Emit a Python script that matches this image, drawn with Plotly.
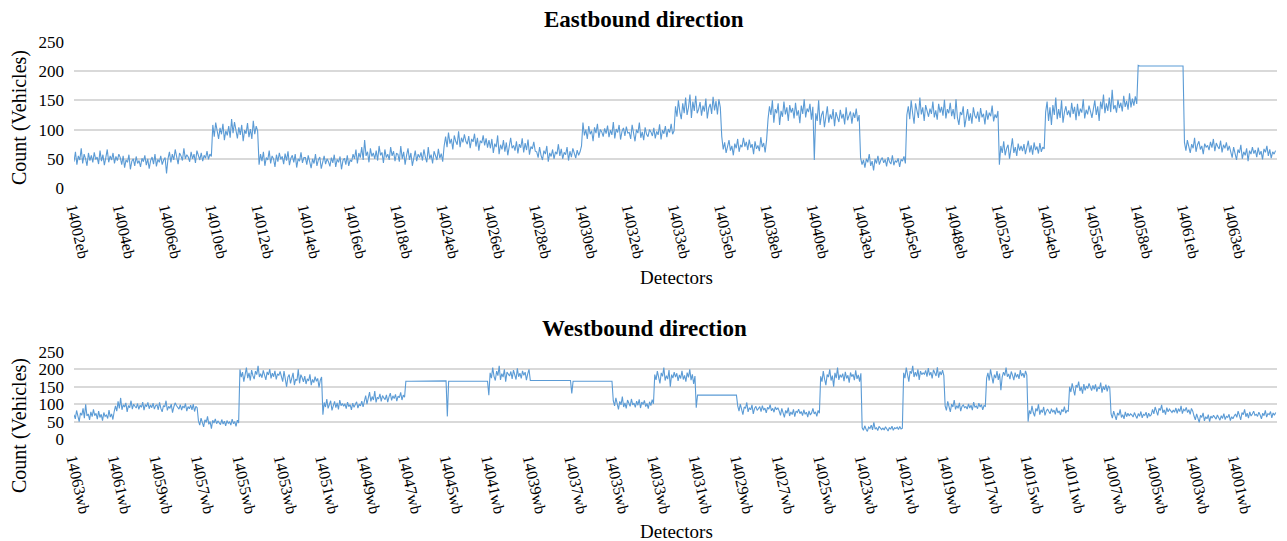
import plotly.graph_objects as go

N = 32  # points per labelled interval

eb_labels = ["14002eb", "14004eb", "14006eb", "14010eb", "14012eb", "14014eb", "14016eb",
             "14018eb", "14024eb", "14026eb", "14028eb", "14030eb", "14032eb", "14033eb",
             "14035eb", "14038eb", "14040eb", "14043eb", "14045eb", "14048eb", "14052eb",
             "14054eb", "14055eb", "14058eb", "14061eb", "14063eb"]

eb_counts = [
    45, 62, 40, 55, 48, 68, 42, 58, 50, 38, 60, 47, 56, 44, 61, 49, 53, 41, 64, 46, 57, 39, 52, 66, 44, 55, 48, 60, 42, 54, 47, 58,
    52, 40, 55, 35, 48, 44, 57, 32, 46, 50, 38, 54, 42, 47, 36, 51, 45, 56, 39, 50, 33, 47, 53, 41, 58, 37, 49, 44, 55, 40, 48, 52,
    25, 50, 62, 44, 58, 48, 66, 52, 41, 60, 55, 47, 68, 50, 57, 53, 45, 62, 50, 58, 43, 64, 54, 48, 60, 46, 56, 51, 63, 49, 58, 54,
    108, 88, 112, 95, 84, 103, 92, 110, 82, 98, 90, 106, 86, 118, 94, 113, 96, 85, 104, 91, 108, 80, 99, 93, 111, 87, 101, 84, 115, 92, 106, 98,
    40, 58, 46, 62, 38, 52, 48, 64, 42, 55, 50, 36, 57, 45, 60, 49, 54, 41, 59, 47, 63, 39, 51, 56, 44, 58, 35, 50, 46, 61, 43, 52,
    52, 40, 56, 44, 34, 50, 42, 58, 38, 48, 53, 33, 46, 55, 41, 50, 45, 37, 52, 43, 57, 36, 49, 44, 54, 32, 47, 51, 40, 56, 38, 48,
    45, 58, 50, 66, 42, 60, 52, 70, 48, 82, 55, 62, 44, 68, 54, 60, 50, 64, 47, 72, 56, 61, 43, 66, 52, 58, 48, 70, 55, 63, 46, 59,
    58, 45, 72, 50, 62, 40, 56, 68, 48, 60, 38, 55, 64, 46, 58, 52, 61, 47, 66, 53, 44, 70, 50, 57, 42, 63, 55, 48, 67, 51, 59, 45,
    72, 88, 70, 95, 76, 84, 66, 90, 80, 74, 97, 70, 86, 78, 92, 80, 75, 89, 68, 84, 79, 93, 71, 86, 64, 81, 77, 90, 73, 85, 69, 82,
    68, 84, 60, 76, 70, 90, 58, 74, 66, 82, 62, 78, 56, 72, 86, 68, 73, 64, 80, 59, 75, 69, 85, 61, 77, 65, 83, 57, 71, 67, 79, 63,
    62, 52, 70, 56, 48, 64, 58, 72, 45, 60, 54, 66, 50, 62, 58, 75, 55, 67, 50, 61, 57, 70, 47, 63, 53, 68, 59, 51, 65, 56, 62, 72,
    112, 90, 100, 84, 106, 92, 98, 80, 104, 94, 110, 86, 100, 96, 88, 102, 93, 107, 87, 99, 91, 113, 85, 101, 95, 108, 83, 97, 103, 89, 105, 94,
    95, 84, 108, 90, 80, 100, 94, 112, 86, 96, 82, 104, 92, 88, 100, 96, 89, 103, 85, 97, 91, 109, 83, 99, 93, 106, 87, 101, 95, 110, 92, 98,
    140, 122, 150, 130, 118, 145, 128, 155, 125, 138, 160, 120, 148, 132, 158, 128, 135, 147, 124, 141, 131, 153, 119, 137, 144, 127, 156, 133, 149, 126, 152, 138,
    88, 66, 78, 60, 74, 82, 64, 72, 56, 76, 68, 84, 62, 74, 70, 86, 71, 79, 65, 83, 69, 75, 58, 80, 67, 73, 63, 87, 70, 77, 61, 82,
    118, 140, 125, 150, 112, 135, 128, 145, 108, 132, 122, 148, 126, 138, 115, 142, 129, 137, 119, 146, 124, 133, 111, 141, 127, 152, 121, 136, 130, 144, 117, 139,
    48, 128, 115, 150, 108, 125, 132, 104, 122, 140, 112, 126, 118, 135, 106, 130, 121, 113, 134, 119, 127, 109, 138, 116, 124, 131, 110, 129, 120, 136, 114, 125,
    52, 40, 48, 35, 50, 44, 58, 38, 46, 30, 50, 42, 55, 40, 48, 52, 43, 49, 37, 53, 45, 41, 56, 39, 47, 44, 51, 36, 49, 46, 54, 42,
    125, 140, 118, 150, 128, 110, 145, 132, 120, 155, 126, 138, 115, 142, 130, 122, 136, 127, 148, 121, 133, 117, 144, 129, 139, 124, 151, 119, 135, 128, 146, 123,
    135, 118, 152, 120, 108, 130, 125, 140, 104, 122, 135, 115, 128, 110, 138, 124, 119, 131, 113, 137, 121, 127, 109, 133, 117, 129, 123, 141, 114, 126, 120, 132,
    40, 72, 60, 80, 56, 68, 74, 50, 66, 85, 60, 70, 55, 76, 64, 72, 63, 75, 58, 69, 81, 61, 73, 57, 78, 65, 71, 59, 77, 62, 70, 67,
    130, 148, 115, 138, 108, 142, 125, 155, 118, 135, 120, 150, 112, 130, 140, 125, 133, 121, 146, 127, 139, 116, 144, 123, 136, 129, 152, 119, 134, 126, 141, 131,
    120, 135, 150, 125, 140, 115, 148, 135, 160, 128, 145, 132, 155, 130, 168, 135, 142, 129, 151, 137, 146, 131, 158, 139, 149, 134, 162, 138, 153, 141, 157, 144,
    210, 209, 209, 210, 209, 209, 210, 209, 209, 209, 210, 209, 209, 210, 209, 209, 209, 210, 209, 209, 209, 210, 209, 209, 210, 209, 209, 209, 210, 209, 209, 209,
    78, 64, 82, 70, 60, 75, 68, 86, 62, 74, 80, 66, 72, 58, 76, 70, 73, 65, 79, 69, 84, 63, 77, 71, 67, 81, 61, 74, 68, 78, 64, 72,
    64, 52, 70, 58, 48, 66, 60, 74, 50, 62, 56, 68, 46, 64, 58, 70, 59, 65, 53, 69, 57, 63, 49, 67, 61, 72, 55, 66, 51, 62, 58, 64,
]

wb_labels = ["14063wb", "14061wb", "14059wb", "14057wb", "14055wb", "14053wb", "14051wb",
             "14049wb", "14047wb", "14045wb", "14041wb", "14039wb", "14037wb", "14035wb",
             "14033wb", "14031wb", "14029wb", "14027wb", "14025wb", "14023wb", "14021wb",
             "14019wb", "14017wb", "14015wb", "14011wb", "14007wb", "14005wb", "14003wb",
             "14001wb"]

wb_counts = [
    70, 58, 82, 65, 50, 75, 68, 88, 60, 100, 66, 72, 55, 78, 64, 85, 67, 74, 57, 80, 62, 71, 53, 76, 65, 69, 59, 83, 63, 72, 56, 79,
    95, 80, 108, 88, 118, 84, 98, 92, 104, 78, 96, 90, 110, 86, 100, 94, 89, 102, 85, 97, 91, 106, 83, 99, 93, 105, 87, 98, 90, 103, 86, 96,
    98, 84, 105, 88, 78, 96, 92, 110, 82, 94, 88, 100, 76, 92, 104, 96, 91, 86, 99, 83, 95, 89, 102, 80, 93, 87, 97, 84, 100, 79, 94, 90,
    52, 40, 60, 45, 35, 55, 48, 65, 42, 50, 30, 54, 46, 58, 44, 52, 47, 41, 56, 43, 51, 38, 53, 45, 49, 40, 57, 44, 50, 36, 54, 46,
    200, 178, 192, 165, 185, 205, 175, 190, 168, 198, 182, 172, 195, 185, 210, 178, 188, 176, 197, 181, 170, 193, 184, 201, 174, 189, 179, 196, 171, 187, 183, 194,
    182, 165, 195, 170, 150, 178, 185, 160, 175, 190, 155, 172, 168, 200, 160, 185, 176, 164, 181, 158, 173, 167, 186, 155, 171, 162, 179, 166, 174, 148, 169, 178,
    70, 105, 92, 115, 88, 100, 110, 82, 98, 108, 90, 104, 85, 112, 96, 102, 94, 101, 87, 106, 93, 99, 84, 103, 91, 97, 107, 89, 100, 95, 109, 92,
    110, 125, 100, 118, 135, 108, 122, 112, 138, 105, 120, 115, 130, 108, 125, 118, 113, 127, 106, 121, 132, 111, 124, 116, 128, 109, 123, 119, 134, 112, 126, 120,
    166, 166, 167, 166, 166, 166, 167, 166, 166, 166, 166, 167, 166, 166, 166, 166, 166, 167, 166, 166, 166, 166, 167, 166, 166, 166, 167, 166, 166, 166, 166, 167,
    65, 166, 166, 167, 166, 166, 166, 166, 167, 166, 166, 166, 166, 167, 166, 166, 166, 166, 167, 166, 166, 166, 166, 167, 166, 166, 166, 167, 166, 166, 166, 166,
    126, 190, 175, 205, 180, 168, 195, 182, 210, 170, 188, 178, 200, 165, 192, 185, 181, 194, 173, 198, 186, 171, 203, 179, 189, 174, 196, 183, 192, 169, 187, 200,
    168, 168, 169, 168, 168, 168, 168, 169, 168, 168, 168, 168, 169, 168, 168, 168, 168, 169, 168, 168, 168, 168, 169, 168, 168, 168, 169, 168, 168, 168, 168, 168,
    131, 166, 166, 167, 166, 166, 166, 166, 167, 166, 166, 166, 166, 167, 166, 166, 166, 167, 166, 166, 166, 166, 167, 166, 166, 166, 166, 167, 166, 166, 166, 166,
    110, 95, 118, 100, 85, 108, 98, 122, 92, 104, 88, 112, 100, 94, 115, 98, 103, 91, 109, 97, 114, 89, 106, 99, 111, 93, 102, 87, 107, 96, 113, 101,
    185, 170, 195, 175, 160, 190, 180, 205, 168, 182, 172, 198, 150, 185, 175, 192, 178, 189, 167, 184, 174, 196, 171, 183, 165, 191, 177, 200, 169, 186, 158, 181,
    90, 126, 126, 127, 126, 126, 126, 126, 127, 126, 126, 126, 126, 127, 126, 126, 126, 126, 127, 126, 126, 126, 126, 127, 126, 126, 126, 127, 126, 126, 126, 126,
    95, 80, 100, 85, 70, 92, 88, 105, 78, 90, 84, 98, 72, 88, 94, 82, 87, 93, 79, 96, 83, 89, 75, 91, 86, 99, 81, 88, 77, 92, 84, 90,
    80, 68, 88, 75, 62, 82, 74, 90, 66, 78, 70, 85, 64, 80, 76, 86, 73, 79, 67, 84, 71, 77, 63, 81, 69, 75, 88, 72, 78, 65, 82, 74,
    180, 165, 195, 172, 155, 185, 178, 200, 168, 182, 150, 190, 175, 205, 170, 185, 177, 188, 166, 193, 174, 183, 162, 191, 179, 186, 169, 197, 173, 184, 165, 189,
    32, 25, 38, 28, 22, 34, 30, 40, 26, 48, 28, 33, 24, 36, 30, 27, 31, 26, 35, 29, 23, 33, 28, 37, 25, 32, 30, 34, 27, 36, 29, 31,
    190, 175, 205, 185, 165, 195, 188, 210, 178, 192, 180, 200, 170, 195, 185, 190, 186, 197, 179, 204, 183, 192, 174, 199, 187, 181, 206, 176, 194, 184, 198, 182,
    95, 82, 108, 90, 78, 100, 92, 112, 85, 96, 88, 104, 80, 94, 98, 90, 93, 86, 101, 89, 97, 83, 106, 91, 95, 87, 103, 92, 99, 84, 96, 94,
    175, 190, 168, 200, 180, 160, 185, 175, 195, 170, 188, 140, 178, 192, 182, 205, 179, 187, 172, 194, 183, 169, 191, 177, 186, 173, 198, 181, 189, 176, 196, 184,
    50, 82, 72, 95, 76, 65, 88, 80, 100, 70, 84, 76, 92, 68, 80, 86, 79, 73, 87, 77, 83, 71, 90, 75, 81, 69, 85, 78, 93, 74, 82, 80,
    150, 135, 160, 142, 125, 155, 148, 165, 138, 150, 130, 158, 140, 152, 145, 160, 146, 139, 154, 143, 157, 136, 149, 144, 162, 133, 151, 141, 156, 137, 153, 147,
    72, 60, 80, 66, 55, 75, 68, 85, 62, 70, 58, 78, 64, 74, 66, 72, 69, 63, 76, 67, 59, 73, 65, 79, 61, 71, 68, 77, 60, 74, 66, 70,
    85, 72, 92, 80, 68, 88, 82, 98, 75, 84, 70, 90, 78, 86, 80, 76, 83, 77, 89, 74, 87, 79, 95, 73, 85, 81, 91, 76, 84, 71, 88, 80,
    66, 55, 72, 60, 48, 68, 62, 75, 52, 64, 58, 70, 50, 66, 60, 68, 63, 57, 69, 61, 54, 67, 59, 73, 56, 65, 62, 71, 53, 64, 58, 66,
    72, 62, 80, 68, 55, 76, 70, 85, 64, 74, 60, 78, 66, 72, 80, 68, 71, 65, 77, 69, 58, 74, 67, 82, 63, 73, 70, 79, 61, 75, 68, 76,
]

y_ticks = [0, 50, 100, 150, 200, 250]

OFF = 8                      # page body margin of the html page
W, H = 1287 - OFF, 541 - OFF
L, R = 74 - OFF, 10
PW = W - L - R
FONT = "Liberation Serif"
LINE = "#5B9BD5"
GRID = "#D9D9D9"


def px_x(px):
    return (px - OFF - L) / PW


def px_y(py):
    return 1 - (py - OFF) / H


fig = go.Figure()
fig.add_trace(go.Scatter(x=list(range(len(eb_counts))), y=eb_counts, mode="lines",
                         line=dict(color=LINE, width=1.1), xaxis="x", yaxis="y",
                         showlegend=False, hoverinfo="skip"))
fig.add_trace(go.Scatter(x=list(range(len(wb_counts))), y=wb_counts, mode="lines",
                         line=dict(color=LINE, width=1.1), xaxis="x2", yaxis="y2",
                         showlegend=False, hoverinfo="skip"))

xcommon = dict(showgrid=False, zeroline=False, showline=False, ticks="", automargin=False,
               tickangle=77, tickfont=dict(family=FONT, size=16, color="#000"),
               ticklabelstandoff=7)
ycommon = dict(showgrid=True, gridcolor=GRID, gridwidth=1.6, zeroline=False, automargin=False,
               showline=False, ticks="", tickvals=y_ticks, range=[0, 250],
               tickfont=dict(family=FONT, size=17, color="#000"), ticklabelstandoff=9)

fig.update_layout(
    width=W, height=H, margin=dict(l=L, r=R, t=0, b=0, autoexpand=False),
    plot_bgcolor="white", paper_bgcolor="white",
    xaxis=dict(domain=[0, 1], anchor="y", range=[0, len(eb_counts)],
               tickvals=[i * N for i in range(len(eb_labels))], ticktext=eb_labels, **xcommon),
    yaxis=dict(domain=[px_y(188), px_y(42)], anchor="x", **ycommon),
    xaxis2=dict(domain=[0, 1], anchor="y2", range=[0, len(wb_counts)],
                tickvals=[i * N for i in range(len(wb_labels))], ticktext=wb_labels, **xcommon),
    yaxis2=dict(domain=[px_y(439), px_y(352)], anchor="x2", **ycommon),
)

ann = []
for txt, py in [("<b>Eastbound direction</b>", 20), ("<b>Westbound direction</b>", 328)]:
    ann.append(dict(text=txt, x=px_x(644), y=px_y(py), xref="paper", yref="paper",
                    showarrow=False, xanchor="center", yanchor="middle",
                    font=dict(family=FONT, size=23, color="#000")))
for py in [277, 531]:
    ann.append(dict(text="Detectors", x=px_x(676), y=px_y(py), xref="paper", yref="paper",
                    showarrow=False, xanchor="center", yanchor="middle",
                    font=dict(family=FONT, size=19, color="#000")))
for py in [118, 426]:
    ann.append(dict(text="Count (Vehicles)", x=px_x(19), y=px_y(py), xref="paper", yref="paper",
                    showarrow=False, xanchor="center", yanchor="middle", textangle=-90,
                    font=dict(family=FONT, size=20, color="#000")))
fig.update_layout(annotations=ann)

fig.write_html("out.html")
